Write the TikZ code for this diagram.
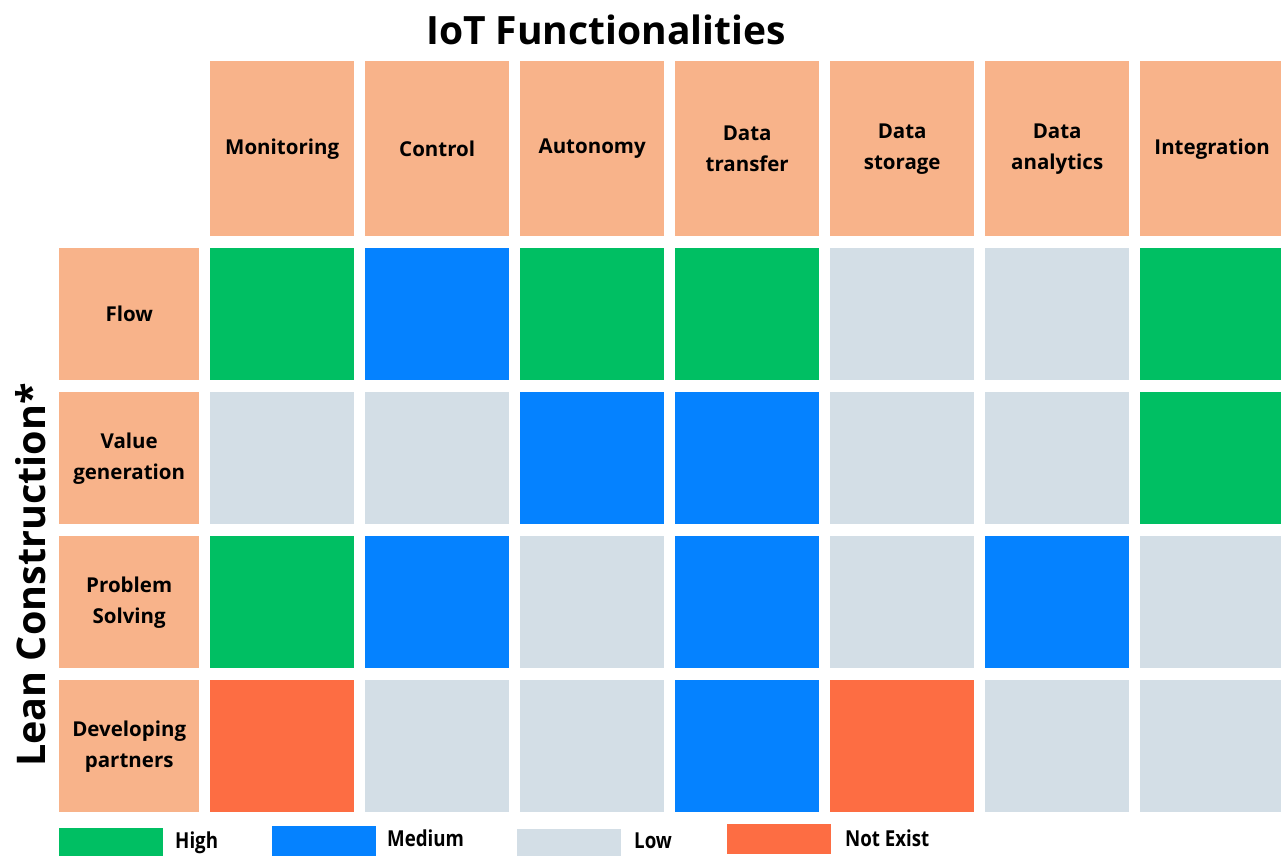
\documentclass[tikz,border=0pt]{standalone}
\usepackage{fontspec}
\setmainfont{Open Sans}
\usepackage{graphicx}
\definecolor{peach}{HTML}{F8B38A}
\definecolor{cg}{HTML}{00BF63}
\definecolor{cb}{HTML}{0582FF}
\definecolor{cl}{HTML}{D3DEE6}
\definecolor{co}{HTML}{FD6D43}
\tikzset{
  headbox/.style={fill=peach, minimum width=144pt, minimum height=175pt, inner sep=0pt, anchor=north west, align=center, font=\bfseries\fontsize{20.5}{31}\selectfont},
  rowbox/.style={fill=peach, minimum width=140pt, minimum height=132pt, inner sep=0pt, anchor=north west, align=center, font=\bfseries\fontsize{20.5}{31}\selectfont},
  cell/.style={minimum width=144pt, minimum height=132pt, inner sep=0pt, anchor=north west},
  keybox/.style={minimum width=104pt, minimum height=30pt, inner sep=0pt, anchor=north west},
  keytext/.style={anchor=west, inner sep=0pt, font=\bfseries\fontsize{22}{22}\selectfont}
}
\begin{document}
\begin{tikzpicture}[x=1pt,y=-1pt]
  \useasboundingbox (0,0) rectangle (1281,855);
  \node[font=\bfseries\fontsize{39}{39}\selectfont] (title) at (606,30) {IoT Functionalities};
  \node[rotate=90, font=\bfseries\fontsize{39.5}{39.5}\selectfont] (lean) at (31,575) {Lean Construction*};
  % column heads
  \foreach \lab [count=\i] in {Monitoring, Control, Autonomy, {Data\\transfer}, {Data\\storage}, {Data\\analytics}, Integration}
    \node[headbox] (h\i) at ({210+155*(\i-1)},61) {\lab};
  % row heads
  \foreach \lab [count=\j] in {Flow, {Value\\generation}, {Problem\\Solving}, {Developing\\partners}}
    \node[rowbox] (r\j) at (59,{248+144*(\j-1)}) {\lab};
  % cells
  \foreach \row [count=\j] in {{g,b,g,g,l,l,g}, {l,l,b,b,l,l,g}, {g,b,l,b,l,b,l}, {o,l,l,b,o,l,l}}
    \foreach \c [count=\i] in \row
      \node[cell, fill=c\c] (c\j\i) at ({210+155*(\i-1)},{248+144*(\j-1)}) {};
  % legend
  \node[keybox, fill=cg] (kg) at (59,828) {};
  \node[keytext] (tg) at (175,843) {\scalebox{0.85}[1]{High}};
  \node[keybox, fill=cb] (kb) at (272,826) {};
  \node[keytext] (tb) at (387,838) {\scalebox{0.85}[1]{Medium}};
  \node[keybox, fill=cl] (kl) at (517,829) {};
  \node[keytext] (tl) at (634,841) {\scalebox{0.85}[1]{Low}};
  \node[keybox, fill=co] (ko) at (727,824) {};
  \node[keytext] (to) at (845,838) {\scalebox{0.85}[1]{Not Exist}};
\end{tikzpicture}
\end{document}
